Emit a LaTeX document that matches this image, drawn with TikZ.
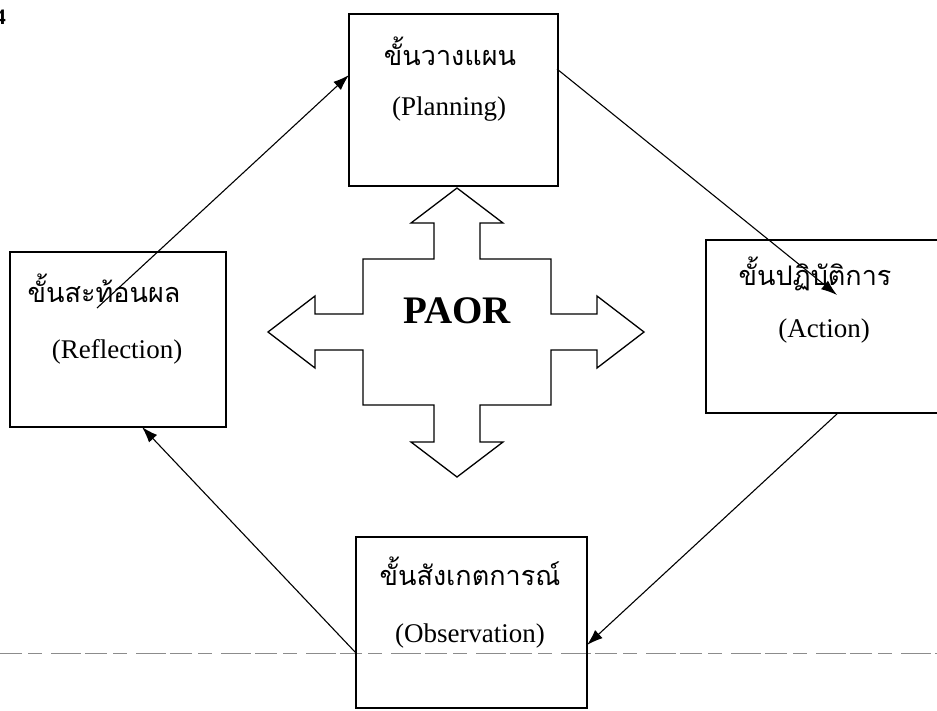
\documentclass[tikz,border=0pt]{standalone}
\usepackage{fontspec}
\setmainfont{Liberation Serif}
\newfontfamily\thaifont[Script=Thai]{Loma}
\usetikzlibrary{arrows.meta}
\tikzset{
  box/.style={draw, line width=1.3pt, rectangle, inner sep=0pt, outer sep=0pt},
  thai/.style={anchor=base, font=\thaifont\fontsize{27}{32}\selectfont, inner sep=0pt},
  eng/.style={anchor=base, font=\fontsize{27}{31}\selectfont, inner sep=0pt},
  flow/.style={line width=1.1pt, -{Latex[length=16pt,width=11pt]}},
  cross/.style={draw, line width=1.3pt, line join=miter, fill=white},
  guide/.style={draw=black!45, line width=0.8pt, dash pattern=on 22pt off 6pt on 14pt off 9pt on 30pt off 4pt}
}
\begin{document}
\begin{tikzpicture}[x=1pt,y=-1pt]
\useasboundingbox (0,0) rectangle (937,710);
\clip (0,0) rectangle (937,710);
\fill[white] (0,0) rectangle (937,710);

% page number fragment
\node[anchor=east, font=\bfseries\fontsize{22}{24}\selectfont, inner sep=0pt] (pg) at (6,17) {4};

% dotted guide line
\coordinate (gl) at (0,653);
\coordinate (gr) at (937,653);
\draw[guide] (gl) -- (gr);

% boxes
\node[box, minimum width=209pt, minimum height=172pt] (plan) at (453.5,100) {};
\node[box, minimum width=216pt, minimum height=175pt] (refl) at (118,339.5) {};
\node[box, minimum width=254pt, minimum height=173pt] (act) at (833,326.5) {};
\node[box, minimum width=231pt, minimum height=171pt] (obs) at (471.5,622.5) {};

% texts
\node[thai] (planT) at (450,65) {ขั้นวางแผน};
\node[eng] (planE) at (449,115) {(Planning)};
\node[thai] (reflT) at (104,302) {ขั้นสะท้อนผล};
\node[eng] (reflE) at (117,358) {(Reflection)};
\node[thai] (actT) at (815,285) {ขั้นปฏิบัติการ};
\node[eng] (actE) at (824,337) {(Action)};
\node[thai] (obsT) at (470,585) {ขั้นสังเกตการณ์};
\node[eng] (obsE) at (470,642) {(Observation)};

% central cross arrow
\draw[cross] (457,188) -- (503,223) -- (480,223) -- (480,259) -- (551,259) -- (551,314)
  -- (597,314) -- (597,296) -- (644,332) -- (597,368) -- (597,350) -- (551,350)
  -- (551,405) -- (480,405) -- (480,442) -- (503,442) -- (457,477) -- (411,442)
  -- (434,442) -- (434,405) -- (363,405) -- (363,350) -- (315,350) -- (315,368)
  -- (268,332) -- (315,296) -- (315,314) -- (363,314) -- (363,259) -- (434,259)
  -- (434,223) -- (411,223) -- cycle;
\node[anchor=base, font=\bfseries\fontsize{39}{43}\selectfont, inner sep=0pt] (paor) at (457,323) {PAOR};

% connector end points
\coordinate (r1) at (97,308);
\coordinate (p1) at (349,75);
\coordinate (p2) at (557,69);
\coordinate (a1) at (837,295);
\coordinate (a2) at (838,413);
\coordinate (o1) at (587,645);
\coordinate (o2) at (356,653);
\coordinate (r2) at (142,427);

\draw[flow] (r1) -- (p1);
\draw[flow] (p2) -- (a1);
\draw[flow] (a2) -- (o1);
\draw[flow] (o2) -- (r2);
\end{tikzpicture}
\end{document}
